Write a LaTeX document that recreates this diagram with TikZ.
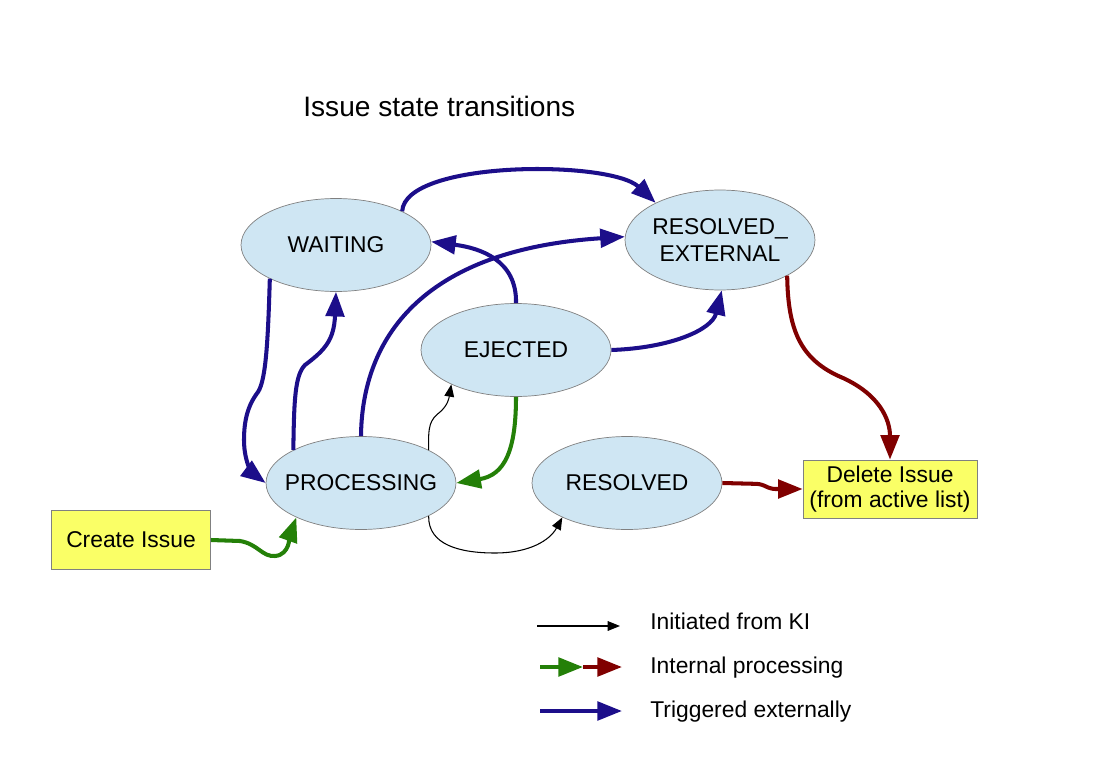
\documentclass[tikz,border=0pt]{standalone}
\usepackage{fontspec}
\setmainfont{Liberation Sans}
\usetikzlibrary{shapes.geometric,arrows.meta}
\definecolor{extblue}{RGB}{28,14,138}
\definecolor{intgreen}{RGB}{36,128,8}
\definecolor{intred}{RGB}{128,0,0}
\definecolor{statefill}{RGB}{207,230,243}
\definecolor{boxfill}{RGB}{250,255,102}

\begin{document}
\begin{tikzpicture}[x=0.02cm,y=-0.02cm,
    state/.style={ellipse,draw=gray,fill=statefill,minimum width=3.8cm,minimum height=1.86cm,
      inner xsep=-6pt,inner ysep=1pt,align=center,font=\fontsize{13}{15}\selectfont},
    box/.style={rectangle,draw=gray,fill=boxfill,inner sep=0pt,align=center,
      font=\fontsize{13}{14}\selectfont},
    extarrow/.style={draw=extblue,line width=2.3pt,-{Triangle[length=14pt,width=10.5pt]}},
    intgarrow/.style={draw=intgreen,line width=2.3pt,-{Triangle[length=14pt,width=10.5pt]}},
    intrarrow/.style={draw=intred,line width=2.3pt,-{Triangle[length=14pt,width=10.5pt]}},
    kiarrow/.style={draw=black,line width=0.6pt,-{Triangle[length=7pt,width=5.5pt]}},
    lbl/.style={anchor=west,inner sep=0pt,font=\fontsize{13}{15}\selectfont}]
  \useasboundingbox (0,0) rectangle (1099,777);

  % title
  \node[anchor=west,inner sep=0pt,font=\fontsize{16}{18}\selectfont] (title) at (303,106) {Issue state transitions};

  % states
  \node[state] (waiting) at (336,245) {WAITING};
  \node[state,minimum height=2cm] (resext) at (720,240) {RESOLVED\_\\EXTERNAL};
  \node[state] (ejected) at (516,350) {EJECTED};
  \node[state] (processing) at (361,483) {PROCESSING};
  \node[state] (resolved) at (627,483) {RESOLVED};

  % start and end
  \node[box,minimum width=3.18cm,minimum height=1.18cm] (create) at (131,540) {Create Issue};
  \node[box,minimum width=3.48cm,minimum height=1.16cm] (delete) at (890,489) {Delete Issue\\(from active list)};

  % triggered externally
  \draw[extarrow] (waiting.27) .. controls (405,160) and (610,160) .. (resext.150);
  \draw[extarrow] (ejected.90) .. controls (517,260) and (480,248) .. (waiting.2);
  \draw[extarrow] (processing.90) .. controls (362,340) and (420,250) .. (resext.178);
  \draw[extarrow] (ejected.0) .. controls (670,348) and (712,330) .. (resext.-88);
  \draw[extarrow] (waiting.207) .. controls (268,340) and (266,380) .. (258,392)
    .. controls (248,405) and (244,420) .. (244,440)
    .. controls (244,465) and (255,475) .. (processing.180);
  \draw[extarrow] (processing.154) .. controls (294,400) and (295,375) .. (305,365)
    .. controls (325,350) and (334,340) .. (waiting.-90);

  % internal processing
  \draw[intgarrow] (ejected.-90) .. controls (516,450) and (505,475) .. (processing.0);
  \draw[intgarrow] (create.east) -- (240,541) .. controls (258,544) and (262,557) .. (275,556)
    .. controls (290,555) and (290,535) .. (processing.208);
  \draw[intrarrow,rounded corners=3pt] (resolved.east) -- (762,484) -- (770,489) -- (delete.west);
  \draw[intrarrow] (resext.-28) .. controls (788,330) and (800,360) .. (843,378)
    .. controls (880,395) and (890,420) .. (delete.north);

  % initiated from KI
  \draw[kiarrow] (processing.26) .. controls (428,425) and (430,420) .. (440,412)
    .. controls (448,405) and (449,398) .. (ejected.208);
  \draw[kiarrow] (processing.-26) .. controls (428,545) and (460,553) .. (495,553)
    .. controls (530,553) and (550,540) .. (resolved.208);

  % legend
  \coordinate (kiA) at (537,626);
  \coordinate (kiB) at (620,626);
  \coordinate (intA) at (540,667);
  \coordinate (intM) at (583,667);
  \coordinate (intB) at (622,667);
  \coordinate (extA) at (540,711);
  \coordinate (extB) at (622,711);
  \draw[kiarrow] (kiA) -- (kiB);
  \draw[intgarrow] (intA) -- (intM);
  \draw[intrarrow] (intM) -- (intB);
  \draw[extarrow] (extA) -- (extB);
  \node[lbl] (kilbl) at (650,621) {Initiated from KI};
  \node[lbl] (intlbl) at (650,668) {Internal processing};
  \node[lbl] (extlbl) at (650,712) {Triggered externally};
\end{tikzpicture}
\end{document}
